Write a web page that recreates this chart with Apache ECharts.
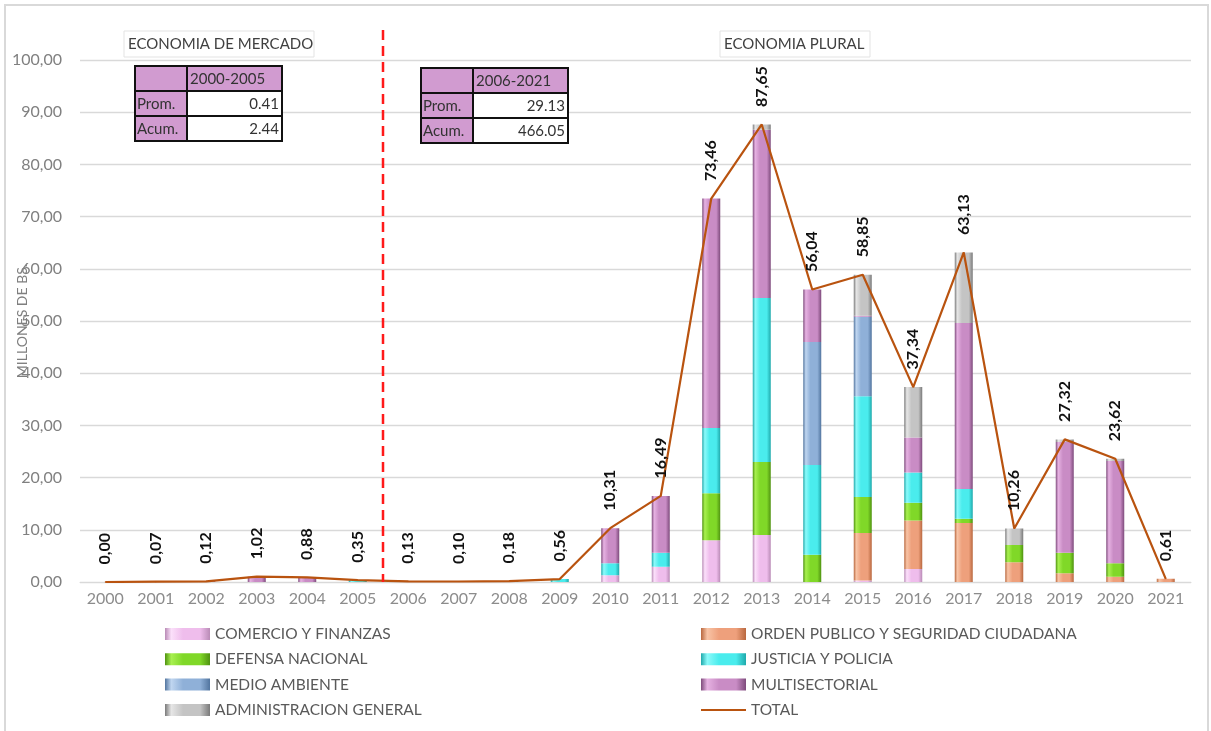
<!DOCTYPE html>
<html><head><meta charset="utf-8">
<script src="https://cdn.jsdelivr.net/npm/echarts@6/dist/echarts.min.js"></script>
<style>html,body{margin:0;padding:0;background:#fff}#c{width:1211px;height:731px}</style>
</head><body><div id="c"></div>
<script>
// ---------- DATA ----------
const years = ['2000','2001','2002','2003','2004','2005','2006','2007','2008','2009','2010','2011','2012','2013','2014','2015','2016','2017','2018','2019','2020','2021'];
const comercio       = [0,0,0,0,0,0,0,0,0,0,1.3,2.9,8.0,9.0,0,0.3,2.5,0,0,0,0,0];
const ordenPublico   = [0,0,0,0,0,0,0,0,0,0,0,0,0,0,0,9.1,9.3,11.3,3.8,1.7,1.0,0.61];
const defensa        = [0,0,0,0,0,0,0,0,0,0,0,0,9.0,14.0,5.2,6.9,3.4,0.8,3.3,3.9,2.6,0];
const justicia       = [0,0,0,0,0,0.35,0,0,0.18,0.56,2.3,2.7,12.5,31.4,17.2,19.3,5.8,5.7,0,0,0,0];
const medioAmbiente  = [0,0,0,0,0,0,0,0,0,0,0,0,0,0,23.6,15.2,0,0,0,0,0,0];
const multisectorial = [0,0.07,0.12,1.02,0.88,0,0.13,0.10,0,0,6.71,10.89,43.96,32.25,10.04,0.2,6.7,31.8,0,21.2,19.6,0];
const administracion = [0,0,0,0,0,0,0,0,0,0,0,0,0,1.0,0,7.85,9.64,13.53,3.16,0.52,0.42,0];
const total          = [0.00,0.07,0.12,1.02,0.88,0.35,0.13,0.10,0.18,0.56,10.31,16.49,73.46,87.65,56.04,58.85,37.34,63.13,10.26,27.32,23.62,0.61];
const yTicks = {min:0, max:100, interval:10};
const separatorAt = 5.5; // between 2005 and 2006
const sectionTitles = ['ECONOMIA DE MERCADO','ECONOMIA PLURAL'];
const table1Head = '2000-2005'; const table1Rows = [['Prom.','0.41'],['Acum.','2.44']];
const table2Head = '2006-2021'; const table2Rows = [['Prom.','29.13'],['Acum.','466.05']];

// ---------- STYLE ----------
const FONT = 'Lato';
function bevel(dark, light, base){
  return new echarts.graphic.LinearGradient(0,0,1,0,[
    {offset:0,color:dark},{offset:0.14,color:light},{offset:0.4,color:base},{offset:0.78,color:base},{offset:1,color:dark}]);
}
const sectors = [
  {name:'COMERCIO Y FINANZAS', data:comercio, c:bevel('#b98bb6','#fbe0fa','#efbdec')},
  {name:'ORDEN PUBLICO Y SEGURIDAD CIUDADANA', data:ordenPublico, c:bevel('#b9683f','#f8c4a6','#eea07c')},
  {name:'DEFENSA NACIONAL', data:defensa, c:bevel('#4f9210','#a8f050','#80d828')},
  {name:'JUSTICIA Y POLICIA', data:justicia, c:bevel('#1fa9ab','#8cfafa','#4aeced')},
  {name:'MEDIO AMBIENTE', data:medioAmbiente, c:bevel('#52759f','#c0d6f0','#8fb0d8')},
  {name:'MULTISECTORIAL', data:multisectorial, c:bevel('#7e4b7c','#e6b2e2','#c98cc5')},
  {name:'ADMINISTRACION GENERAL', data:administracion, c:bevel('#7a7a7a','#e6e6e6','#c4c4c4')}
];
const lineColor = '#b9530f';
const fmt = v => Number(v).toFixed(2).replace('.', ',');

const chart = echarts.init(document.getElementById('c'), null, {renderer:'canvas'});

const series = sectors.map(s => ({
  name:s.name, type:'bar', stack:'s', data:s.data, barWidth:18,
  itemStyle:{color:s.c}, emphasis:{disabled:true}
}));
series.push({
  name:'TOTAL', type:'line', data:total, symbol:'circle', symbolSize:1,
  itemStyle:{color:lineColor}, lineStyle:{color:lineColor, width:2.2}, z:5,
  label:{show:true, position:'top', rotate:90, align:'left', verticalAlign:'middle', distance:17,
    formatter:p=>fmt(p.value), color:'#111', fontWeight:'bold', fontSize:16, fontFamily:FONT}
});

const legendText = {color:'#595959', fontSize:15.5, fontFamily:FONT, lineHeight:15};
function tableGraphic(x, y, head, rows){
  const w1=52, w2=95, h=25, els=[];
  const f = '15px '+FONT;
  els.push({type:'rect', shape:{x:x, y:y, width:w1, height:h*3}, style:{fill:'#d19bd0'}});
  els.push({type:'rect', shape:{x:x+w1, y:y, width:w2, height:h}, style:{fill:'#d19bd0'}});
  els.push({type:'rect', shape:{x:x+w1, y:y+h, width:w2, height:h*2}, style:{fill:'#fff'}});
  els.push({type:'rect', shape:{x:x, y:y, width:w1+w2, height:h*3}, style:{fill:null, stroke:'#111', lineWidth:2}});
  els.push({type:'line', shape:{x1:x+w1, y1:y, x2:x+w1, y2:y+h*3}, style:{stroke:'#111', lineWidth:2}});
  els.push({type:'line', shape:{x1:x, y1:y+h, x2:x+w1+w2, y2:y+h}, style:{stroke:'#111', lineWidth:2}});
  els.push({type:'line', shape:{x1:x, y1:y+2*h, x2:x+w1+w2, y2:y+2*h}, style:{stroke:'#111', lineWidth:2}});
  els.push({type:'text', x:x+w1+3, y:y+h/2+1, style:{text:head, fill:'#333', font:f, verticalAlign:'middle'}});
  rows.forEach((r,i)=>{
    els.push({type:'text', x:x+2, y:y+h*(i+1)+h/2+1, style:{text:r[0], fill:'#333', font:f, verticalAlign:'middle'}});
    els.push({type:'text', x:x+w1+w2-3, y:y+h*(i+1)+h/2+1, style:{text:r[1], fill:'#333', font:f, verticalAlign:'middle', align:'right'}});
  });
  return els;
}
function titleBox(x, y, w, t){
  return [
    {type:'rect', shape:{x:x, y:y, width:w, height:26}, style:{fill:'#fff', stroke:'#e3e3e3', lineWidth:1}},
    {type:'text', x:x+4, y:y+13, style:{text:t, fill:'#404040', font:'15px '+FONT, verticalAlign:'middle'}}
  ];
}

chart.setOption({
  animation:false,
  backgroundColor:'#fff',
  grid:{left:80, right:20, top:60, bottom:149, containLabel:false, outerBoundsMode:'none'},
  xAxis:[
    {type:'category', data:years, boundaryGap:true,
     axisLine:{lineStyle:{color:'#d9d9d9'}}, axisTick:{show:false},
     axisLabel:{color:'#8c8c8c', fontSize:16, fontFamily:FONT, margin:9}},
    {type:'value', min:-0.5, max:21.5, show:false}
  ],
  yAxis:{type:'value', min:yTicks.min, max:yTicks.max, interval:yTicks.interval,
    name:'MILLONES DE BS.', nameLocation:'middle', nameGap:51, nameRotate:90, nameMoveOverlap:false,
    nameTextStyle:{color:'#7f7f7f', fontSize:14, fontFamily:FONT},
    axisLine:{show:false}, axisTick:{show:false},
    splitLine:{lineStyle:{color:'#d9d9d9', width:1.3}},
    axisLabel:{color:'#808080', fontSize:16, fontFamily:FONT, margin:18, formatter:v=>fmt(v)}},
  legend:[
    {orient:'vertical', left:160, top:621, itemWidth:45, itemHeight:12, itemGap:9.3, icon:'rect',
     data:['COMERCIO Y FINANZAS','DEFENSA NACIONAL','MEDIO AMBIENTE','ADMINISTRACION GENERAL'],
     textStyle:legendText, selectedMode:false},
    {orient:'vertical', left:695, top:621, itemWidth:45, itemHeight:12, itemGap:9.3,
     data:[{name:'ORDEN PUBLICO Y SEGURIDAD CIUDADANA', icon:'rect'},{name:'JUSTICIA Y POLICIA', icon:'rect'},{name:'MULTISECTORIAL', icon:'rect'},{name:'TOTAL', itemStyle:{opacity:0}}],
     textStyle:legendText, selectedMode:false}
  ],
  series:series
});

// annotations: separator line, section titles, summary tables, outer frame
const sepX = chart.convertToPixel({xAxisIndex:1}, separatorAt);
const y0 = chart.convertToPixel({yAxisIndex:0}, 0);
chart.setOption({
  graphic:[
    {type:'rect', shape:{x:5, y:5, width:1203, height:760}, style:{fill:null, stroke:'#d9d9d9', lineWidth:2}, silent:true},
    {type:'line', shape:{x1:sepX, y1:30, x2:sepX, y2:y0}, style:{stroke:'#ff1a1a', lineWidth:2.5, lineDash:[10,6]}, z:10},
    ...titleBox(124, 31, 190, sectionTitles[0]),
    ...titleBox(720, 31, 150, sectionTitles[1]),
    ...tableGraphic(135, 66, table1Head, table1Rows),
    ...tableGraphic(421, 68, table2Head, table2Rows)
  ]
});
</script></body></html>
